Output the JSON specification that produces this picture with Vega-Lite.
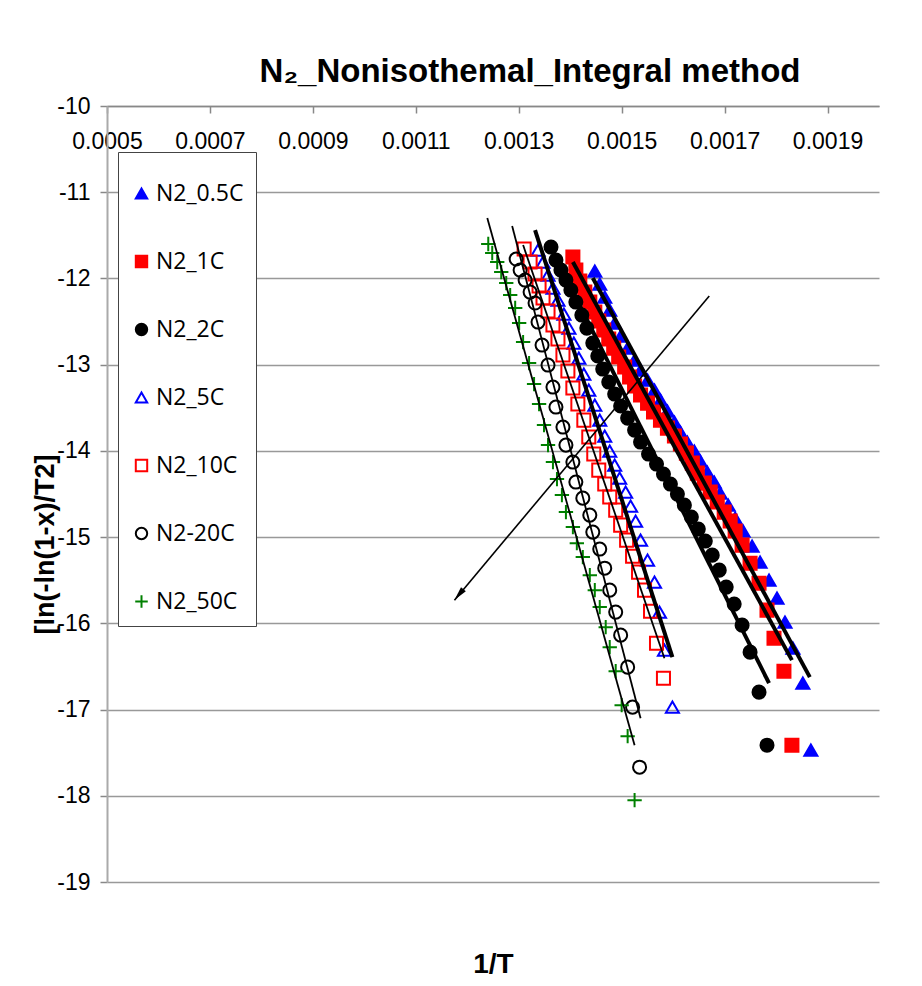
{
  "$schema": "https://vega.github.io/schema/vega-lite/v6.json",
  "width": 772,
  "height": 776,
  "autosize": {"type": "none"},
  "padding": {"left": 107, "top": 106, "right": 43, "bottom": 104},
  "background": "white",
  "config": {
    "view": {"stroke": null},
    "font": "Liberation Sans",
    "legend": {
      "orient": "none",
      "legendX": 11,
      "legendY": 46,
      "padding": 12,
      "rowPadding": 44,
      "labelFont": "Open Sans",
      "labelFontSize": 23,
      "labelColor": "black",
      "labelOffset": 3,
      "symbolSize": 130,
      "symbolStrokeWidth": 2,
      "strokeColor": "#444",
      "fillColor": "white",
      "titleFontSize": 12,
      "titlePadding": 6
    }
  },
  "title": {
    "text": "N₂_Nonisothemal_Integral method",
    "font": "Liberation Sans",
    "fontSize": 33,
    "fontWeight": "bold",
    "color": "black",
    "anchor": "middle",
    "dx": 37,
    "offset": 6
  },
  "datasets": {
    "pts": [
      {"series": "N2_0.5C", "x": 0.0014478, "y": -11.914},
      {"series": "N2_0.5C", "x": 0.0014574, "y": -12.065},
      {"series": "N2_0.5C", "x": 0.0014671, "y": -12.216},
      {"series": "N2_0.5C", "x": 0.0014768, "y": -12.367},
      {"series": "N2_0.5C", "x": 0.0014864, "y": -12.518},
      {"series": "N2_0.5C", "x": 0.0014980, "y": -12.668},
      {"series": "N2_0.5C", "x": 0.0015116, "y": -12.808},
      {"series": "N2_0.5C", "x": 0.0015251, "y": -12.947},
      {"series": "N2_0.5C", "x": 0.0015367, "y": -13.063},
      {"series": "N2_0.5C", "x": 0.0015503, "y": -13.179},
      {"series": "N2_0.5C", "x": 0.0015638, "y": -13.295},
      {"series": "N2_0.5C", "x": 0.0015754, "y": -13.411},
      {"series": "N2_0.5C", "x": 0.0015889, "y": -13.538},
      {"series": "N2_0.5C", "x": 0.0016025, "y": -13.666},
      {"series": "N2_0.5C", "x": 0.0016141, "y": -13.782},
      {"series": "N2_0.5C", "x": 0.0016276, "y": -13.898},
      {"series": "N2_0.5C", "x": 0.0016412, "y": -14.002},
      {"series": "N2_0.5C", "x": 0.0016528, "y": -14.118},
      {"series": "N2_0.5C", "x": 0.0016663, "y": -14.246},
      {"series": "N2_0.5C", "x": 0.0016799, "y": -14.362},
      {"series": "N2_0.5C", "x": 0.0016915, "y": -14.490},
      {"series": "N2_0.5C", "x": 0.0017070, "y": -14.629},
      {"series": "N2_0.5C", "x": 0.0017205, "y": -14.780},
      {"series": "N2_0.5C", "x": 0.0017360, "y": -14.930},
      {"series": "N2_0.5C", "x": 0.0017534, "y": -15.105},
      {"series": "N2_0.5C", "x": 0.0017689, "y": -15.290},
      {"series": "N2_0.5C", "x": 0.0017863, "y": -15.499},
      {"series": "N2_0.5C", "x": 0.0018018, "y": -15.708},
      {"series": "N2_0.5C", "x": 0.0018173, "y": -15.986},
      {"series": "N2_0.5C", "x": 0.0018327, "y": -16.288},
      {"series": "N2_0.5C", "x": 0.0018520, "y": -16.694},
      {"series": "N2_0.5C", "x": 0.0018676, "y": -17.471},

      {"series": "N2_1C", "x": 0.0014052, "y": -11.752},
      {"series": "N2_1C", "x": 0.0014110, "y": -11.903},
      {"series": "N2_1C", "x": 0.0014187, "y": -12.030},
      {"series": "N2_1C", "x": 0.0014284, "y": -12.158},
      {"series": "N2_1C", "x": 0.0014381, "y": -12.274},
      {"series": "N2_1C", "x": 0.0014478, "y": -12.390},
      {"series": "N2_1C", "x": 0.0014555, "y": -12.494},
      {"series": "N2_1C", "x": 0.0014652, "y": -12.599},
      {"series": "N2_1C", "x": 0.0014749, "y": -12.703},
      {"series": "N2_1C", "x": 0.0014845, "y": -12.808},
      {"series": "N2_1C", "x": 0.0014942, "y": -12.912},
      {"series": "N2_1C", "x": 0.0015058, "y": -13.028},
      {"series": "N2_1C", "x": 0.0015154, "y": -13.144},
      {"series": "N2_1C", "x": 0.0015251, "y": -13.248},
      {"series": "N2_1C", "x": 0.0015367, "y": -13.353},
      {"series": "N2_1C", "x": 0.0015503, "y": -13.446},
      {"series": "N2_1C", "x": 0.0015619, "y": -13.550},
      {"series": "N2_1C", "x": 0.0015754, "y": -13.643},
      {"series": "N2_1C", "x": 0.0015889, "y": -13.736},
      {"series": "N2_1C", "x": 0.0016025, "y": -13.828},
      {"series": "N2_1C", "x": 0.0016141, "y": -13.921},
      {"series": "N2_1C", "x": 0.0016257, "y": -14.026},
      {"series": "N2_1C", "x": 0.0016373, "y": -14.142},
      {"series": "N2_1C", "x": 0.0016470, "y": -14.258},
      {"series": "N2_1C", "x": 0.0016605, "y": -14.374},
      {"series": "N2_1C", "x": 0.0016721, "y": -14.478},
      {"series": "N2_1C", "x": 0.0016857, "y": -14.594},
      {"series": "N2_1C", "x": 0.0016992, "y": -14.710},
      {"series": "N2_1C", "x": 0.0017108, "y": -14.814},
      {"series": "N2_1C", "x": 0.0017205, "y": -14.930},
      {"series": "N2_1C", "x": 0.0017340, "y": -15.093},
      {"series": "N2_1C", "x": 0.0017495, "y": -15.302},
      {"series": "N2_1C", "x": 0.0017669, "y": -15.534},
      {"series": "N2_1C", "x": 0.0017824, "y": -15.847},
      {"series": "N2_1C", "x": 0.0017960, "y": -16.172},
      {"series": "N2_1C", "x": 0.0018153, "y": -16.555},
      {"series": "N2_1C", "x": 0.0018308, "y": -17.413},

      {"series": "N2_2C", "x": 0.0013627, "y": -11.636},
      {"series": "N2_2C", "x": 0.0013723, "y": -11.787},
      {"series": "N2_2C", "x": 0.0013820, "y": -11.903},
      {"series": "N2_2C", "x": 0.0013917, "y": -12.019},
      {"series": "N2_2C", "x": 0.0014013, "y": -12.135},
      {"series": "N2_2C", "x": 0.0014110, "y": -12.274},
      {"series": "N2_2C", "x": 0.0014226, "y": -12.425},
      {"series": "N2_2C", "x": 0.0014323, "y": -12.576},
      {"series": "N2_2C", "x": 0.0014439, "y": -12.750},
      {"series": "N2_2C", "x": 0.0014536, "y": -12.900},
      {"series": "N2_2C", "x": 0.0014632, "y": -13.051},
      {"series": "N2_2C", "x": 0.0014749, "y": -13.202},
      {"series": "N2_2C", "x": 0.0014864, "y": -13.341},
      {"series": "N2_2C", "x": 0.0014980, "y": -13.480},
      {"series": "N2_2C", "x": 0.0015116, "y": -13.620},
      {"series": "N2_2C", "x": 0.0015251, "y": -13.759},
      {"series": "N2_2C", "x": 0.0015367, "y": -13.898},
      {"series": "N2_2C", "x": 0.0015522, "y": -14.037},
      {"series": "N2_2C", "x": 0.0015677, "y": -14.153},
      {"series": "N2_2C", "x": 0.0015812, "y": -14.269},
      {"series": "N2_2C", "x": 0.0015947, "y": -14.385},
      {"series": "N2_2C", "x": 0.0016083, "y": -14.501},
      {"series": "N2_2C", "x": 0.0016218, "y": -14.629},
      {"series": "N2_2C", "x": 0.0016354, "y": -14.768},
      {"series": "N2_2C", "x": 0.0016489, "y": -14.907},
      {"series": "N2_2C", "x": 0.0016625, "y": -15.046},
      {"series": "N2_2C", "x": 0.0016760, "y": -15.209},
      {"series": "N2_2C", "x": 0.0016896, "y": -15.383},
      {"series": "N2_2C", "x": 0.0017031, "y": -15.580},
      {"series": "N2_2C", "x": 0.0017186, "y": -15.777},
      {"series": "N2_2C", "x": 0.0017340, "y": -16.021},
      {"series": "N2_2C", "x": 0.0017495, "y": -16.334},
      {"series": "N2_2C", "x": 0.0017669, "y": -16.798},
      {"series": "N2_2C", "x": 0.0017824, "y": -17.413},

      {"series": "N2_5C", "x": 0.0013375, "y": -11.671},
      {"series": "N2_5C", "x": 0.0013472, "y": -11.810},
      {"series": "N2_5C", "x": 0.0013569, "y": -11.961},
      {"series": "N2_5C", "x": 0.0013665, "y": -12.111},
      {"series": "N2_5C", "x": 0.0013762, "y": -12.251},
      {"series": "N2_5C", "x": 0.0013878, "y": -12.413},
      {"series": "N2_5C", "x": 0.0013975, "y": -12.576},
      {"series": "N2_5C", "x": 0.0014071, "y": -12.750},
      {"series": "N2_5C", "x": 0.0014168, "y": -12.924},
      {"series": "N2_5C", "x": 0.0014265, "y": -13.109},
      {"series": "N2_5C", "x": 0.0014361, "y": -13.295},
      {"series": "N2_5C", "x": 0.0014478, "y": -13.469},
      {"series": "N2_5C", "x": 0.0014574, "y": -13.643},
      {"series": "N2_5C", "x": 0.0014671, "y": -13.828},
      {"series": "N2_5C", "x": 0.0014768, "y": -14.002},
      {"series": "N2_5C", "x": 0.0014864, "y": -14.165},
      {"series": "N2_5C", "x": 0.0014961, "y": -14.316},
      {"series": "N2_5C", "x": 0.0015077, "y": -14.478},
      {"series": "N2_5C", "x": 0.0015174, "y": -14.640},
      {"series": "N2_5C", "x": 0.0015271, "y": -14.814},
      {"series": "N2_5C", "x": 0.0015367, "y": -15.035},
      {"series": "N2_5C", "x": 0.0015503, "y": -15.267},
      {"series": "N2_5C", "x": 0.0015638, "y": -15.522},
      {"series": "N2_5C", "x": 0.0015735, "y": -15.870},
      {"series": "N2_5C", "x": 0.0015831, "y": -16.311},
      {"series": "N2_5C", "x": 0.0015986, "y": -16.972},

      {"series": "N2_10C", "x": 0.0013105, "y": -11.659},
      {"series": "N2_10C", "x": 0.0013221, "y": -11.810},
      {"series": "N2_10C", "x": 0.0013317, "y": -11.949},
      {"series": "N2_10C", "x": 0.0013395, "y": -12.088},
      {"series": "N2_10C", "x": 0.0013472, "y": -12.227},
      {"series": "N2_10C", "x": 0.0013569, "y": -12.378},
      {"series": "N2_10C", "x": 0.0013665, "y": -12.541},
      {"series": "N2_10C", "x": 0.0013762, "y": -12.703},
      {"series": "N2_10C", "x": 0.0013859, "y": -12.889},
      {"series": "N2_10C", "x": 0.0013955, "y": -13.074},
      {"series": "N2_10C", "x": 0.0014052, "y": -13.271},
      {"series": "N2_10C", "x": 0.0014149, "y": -13.457},
      {"series": "N2_10C", "x": 0.0014265, "y": -13.643},
      {"series": "N2_10C", "x": 0.0014361, "y": -13.840},
      {"series": "N2_10C", "x": 0.0014458, "y": -14.037},
      {"series": "N2_10C", "x": 0.0014555, "y": -14.223},
      {"series": "N2_10C", "x": 0.0014671, "y": -14.385},
      {"series": "N2_10C", "x": 0.0014768, "y": -14.536},
      {"series": "N2_10C", "x": 0.0014884, "y": -14.687},
      {"series": "N2_10C", "x": 0.0014980, "y": -14.861},
      {"series": "N2_10C", "x": 0.0015096, "y": -15.035},
      {"series": "N2_10C", "x": 0.0015212, "y": -15.221},
      {"series": "N2_10C", "x": 0.0015328, "y": -15.406},
      {"series": "N2_10C", "x": 0.0015444, "y": -15.615},
      {"series": "N2_10C", "x": 0.0015561, "y": -15.859},
      {"series": "N2_10C", "x": 0.0015677, "y": -16.230},
      {"series": "N2_10C", "x": 0.0015812, "y": -16.636},

      {"series": "N2-20C", "x": 0.0012950, "y": -11.775},
      {"series": "N2-20C", "x": 0.0013027, "y": -11.903},
      {"series": "N2-20C", "x": 0.0013124, "y": -12.019},
      {"series": "N2-20C", "x": 0.0013221, "y": -12.158},
      {"series": "N2-20C", "x": 0.0013317, "y": -12.285},
      {"series": "N2-20C", "x": 0.0013375, "y": -12.506},
      {"series": "N2-20C", "x": 0.0013453, "y": -12.773},
      {"series": "N2-20C", "x": 0.0013569, "y": -13.005},
      {"series": "N2-20C", "x": 0.0013665, "y": -13.260},
      {"series": "N2-20C", "x": 0.0013723, "y": -13.492},
      {"series": "N2-20C", "x": 0.0013859, "y": -13.724},
      {"series": "N2-20C", "x": 0.0013917, "y": -13.933},
      {"series": "N2-20C", "x": 0.0014052, "y": -14.130},
      {"series": "N2-20C", "x": 0.0014110, "y": -14.362},
      {"series": "N2-20C", "x": 0.0014245, "y": -14.548},
      {"series": "N2-20C", "x": 0.0014381, "y": -14.745},
      {"series": "N2-20C", "x": 0.0014439, "y": -14.942},
      {"series": "N2-20C", "x": 0.0014574, "y": -15.139},
      {"series": "N2-20C", "x": 0.0014671, "y": -15.360},
      {"series": "N2-20C", "x": 0.0014768, "y": -15.615},
      {"series": "N2-20C", "x": 0.0014884, "y": -15.870},
      {"series": "N2-20C", "x": 0.0014980, "y": -16.137},
      {"series": "N2-20C", "x": 0.0015116, "y": -16.508},
      {"series": "N2-20C", "x": 0.0015212, "y": -16.972},
      {"series": "N2-20C", "x": 0.0015348, "y": -17.668},

      {"series": "N2_50C", "x": 0.0012408, "y": -11.601},
      {"series": "N2_50C", "x": 0.0012485, "y": -11.705},
      {"series": "N2_50C", "x": 0.0012582, "y": -11.810},
      {"series": "N2_50C", "x": 0.0012660, "y": -11.926},
      {"series": "N2_50C", "x": 0.0012757, "y": -12.054},
      {"series": "N2_50C", "x": 0.0012834, "y": -12.193},
      {"series": "N2_50C", "x": 0.0012931, "y": -12.343},
      {"series": "N2_50C", "x": 0.0013008, "y": -12.518},
      {"series": "N2_50C", "x": 0.0013085, "y": -12.738},
      {"series": "N2_50C", "x": 0.0013201, "y": -12.982},
      {"series": "N2_50C", "x": 0.0013298, "y": -13.225},
      {"series": "N2_50C", "x": 0.0013395, "y": -13.457},
      {"series": "N2_50C", "x": 0.0013491, "y": -13.701},
      {"series": "N2_50C", "x": 0.0013569, "y": -13.933},
      {"series": "N2_50C", "x": 0.0013665, "y": -14.130},
      {"series": "N2_50C", "x": 0.0013743, "y": -14.327},
      {"series": "N2_50C", "x": 0.0013839, "y": -14.513},
      {"series": "N2_50C", "x": 0.0013917, "y": -14.710},
      {"series": "N2_50C", "x": 0.0014052, "y": -14.884},
      {"series": "N2_50C", "x": 0.0014129, "y": -15.070},
      {"series": "N2_50C", "x": 0.0014245, "y": -15.232},
      {"series": "N2_50C", "x": 0.0014381, "y": -15.441},
      {"series": "N2_50C", "x": 0.0014478, "y": -15.615},
      {"series": "N2_50C", "x": 0.0014574, "y": -15.812},
      {"series": "N2_50C", "x": 0.0014690, "y": -16.044},
      {"series": "N2_50C", "x": 0.0014768, "y": -16.276},
      {"series": "N2_50C", "x": 0.0014884, "y": -16.555},
      {"series": "N2_50C", "x": 0.0015000, "y": -16.949},
      {"series": "N2_50C", "x": 0.0015116, "y": -17.309},
      {"series": "N2_50C", "x": 0.0015251, "y": -18.051}
    ],
    "fits": [
      {"series": "N2_0.5C", "x": 0.0014439, "y": -11.995},
      {"series": "N2_0.5C", "x": 0.0018656, "y": -16.624},
      {"series": "N2_1C", "x": 0.0014052, "y": -11.810},
      {"series": "N2_1C", "x": 0.0018308, "y": -16.427},
      {"series": "N2_2C", "x": 0.0013627, "y": -11.647},
      {"series": "N2_2C", "x": 0.0017863, "y": -16.694},
      {"series": "N2_5C", "x": 0.0013317, "y": -11.439},
      {"series": "N2_5C", "x": 0.0015986, "y": -16.392},
      {"series": "N2_10C", "x": 0.0013085, "y": -11.613},
      {"series": "N2_10C", "x": 0.0015831, "y": -16.404},
      {"series": "N2-20C", "x": 0.0012872, "y": -11.392},
      {"series": "N2-20C", "x": 0.0015367, "y": -17.100},
      {"series": "N2_50C", "x": 0.0012389, "y": -11.299},
      {"series": "N2_50C", "x": 0.0015251, "y": -17.413}
    ],
    "arrow": [
      {"x": 0.0016702, "y": -12.204, "x2": 0.0011751, "y2": -15.731}
    ],
    "arrowhead": [
      {"x": 0.0011838, "y": -15.668}
    ]
  },
  "layer": [
    {
      "data": {"name": "pts"},
      "mark": {"type": "point", "opacity": 1, "strokeWidth": 2, "size": 170},
      "encoding": {
        "x": {
          "field": "x",
          "type": "quantitative",
          "scale": {"domain": [0.0005, 0.002], "nice": false, "zero": false},
          "axis": {
            "orient": "bottom",
            "offset": -776,
            "values": [0.0005, 0.0007, 0.0009, 0.0011, 0.0013, 0.0015, 0.0017, 0.0019],
            "format": ".4f",
            "grid": false,
            "domainColor": "#888",
            "domainWidth": 1.5,
            "tickColor": "#888",
            "tickSize": 7,
            "tickWidth": 1.5,
            "labelFont": "Liberation Sans",
            "labelFontSize": 23,
            "labelPadding": 17,
            "labelColor": "black",
            "labelFlush": false,
            "labelOverlap": false,
            "title": "1/T",
            "titleFont": "Liberation Sans",
            "titleFontSize": 28,
            "titleFontWeight": "bold",
            "titleColor": "black",
            "titleX": 386,
            "titleY": 866,
            "titleAlign": "center",
            "titleBaseline": "alphabetic"
          }
        },
        "y": {
          "field": "y",
          "type": "quantitative",
          "scale": {"domain": [-19, -10], "nice": false, "zero": false},
          "axis": {
            "values": [-10, -11, -12, -13, -14, -15, -16, -17, -18, -19],
            "labelExpr": "'' + datum.value",
            "grid": true,
            "gridColor": "#999",
            "gridWidth": 1.5,
            "domainColor": "#aaa",
            "domainWidth": 2,
            "tickColor": "#888",
            "tickSize": 7,
            "tickWidth": 1.5,
            "labelFont": "Liberation Sans",
            "labelFontSize": 23,
            "labelPadding": 10,
            "labelColor": "black",
            "labelFlush": false,
            "labelOverlap": false,
            "title": "[ln(-ln(1-x)/T2]",
            "titleFont": "Liberation Sans",
            "titleFontSize": 27,
            "titleFontWeight": "bold",
            "titleColor": "black",
            "titleAngle": -90,
            "titleX": -62,
            "titleY": 438,
            "titleAlign": "center",
            "titleBaseline": "middle"
          }
        },
        "shape": {
          "field": "series",
          "type": "nominal",
          "scale": {
            "domain": ["N2_0.5C", "N2_1C", "N2_2C", "N2_5C", "N2_10C", "N2-20C", "N2_50C"],
            "range": ["triangle-up", "square", "circle", "triangle-up", "square", "circle", "M-1.1,0L1.1,0M0,-1.1L0,1.1"]
          },
          "legend": {"title": " "}
        },
        "stroke": {
          "field": "series",
          "type": "nominal",
          "scale": {
            "domain": ["N2_0.5C", "N2_1C", "N2_2C", "N2_5C", "N2_10C", "N2-20C", "N2_50C"],
            "range": ["#0000ff", "#ff0000", "#000000", "#0000ff", "#ff0000", "#000000", "#008000"]
          },
          "legend": {"title": " "}
        },
        "fill": {
          "field": "series",
          "type": "nominal",
          "scale": {
            "domain": ["N2_0.5C", "N2_1C", "N2_2C", "N2_5C", "N2_10C", "N2-20C", "N2_50C"],
            "range": ["#0000ff", "#ff0000", "#000000", "transparent", "transparent", "transparent", "transparent"]
          },
          "legend": {"title": " "}
        }
      }
    },
    {
      "data": {"name": "fits"},
      "transform": [{"filter": {"field": "series", "oneOf": ["N2_0.5C", "N2_1C", "N2_2C", "N2_5C"]}}],
      "mark": {"type": "line", "color": "black", "strokeWidth": 4},
      "encoding": {
        "x": {"field": "x", "type": "quantitative"},
        "y": {"field": "y", "type": "quantitative"},
        "detail": {"field": "series", "type": "nominal"}
      }
    },
    {
      "data": {"name": "fits"},
      "transform": [{"filter": {"field": "series", "oneOf": ["N2_10C", "N2-20C", "N2_50C"]}}],
      "mark": {"type": "line", "color": "black", "strokeWidth": 1.8},
      "encoding": {
        "x": {"field": "x", "type": "quantitative"},
        "y": {"field": "y", "type": "quantitative"},
        "detail": {"field": "series", "type": "nominal"}
      }
    },
    {
      "data": {"name": "arrow"},
      "mark": {"type": "rule", "color": "black", "strokeWidth": 1.6},
      "encoding": {
        "x": {"field": "x", "type": "quantitative"},
        "y": {"field": "y", "type": "quantitative"},
        "x2": {"field": "x2"},
        "y2": {"field": "y2"}
      }
    },
    {
      "data": {"name": "arrowhead"},
      "mark": {"type": "point", "shape": "M0,-1L0.45,1L-0.45,1Z", "filled": true, "color": "black", "opacity": 1, "size": 196, "angle": 220},
      "encoding": {
        "x": {"field": "x", "type": "quantitative"},
        "y": {"field": "y", "type": "quantitative"}
      }
    }
  ]
}
